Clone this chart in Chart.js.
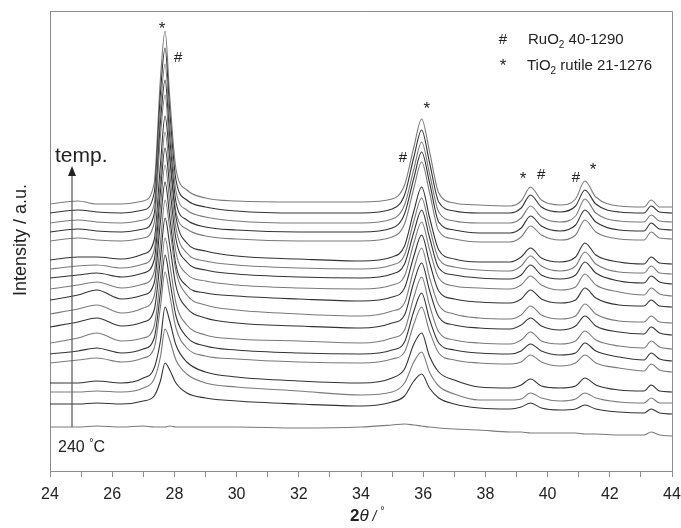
<!DOCTYPE html>
<html>
<head>
<meta charset="utf-8">
<script src="https://cdn.jsdelivr.net/npm/chart.js@4.4.1/dist/chart.umd.min.js"></script>
<style>
  html, body { margin: 0; padding: 0; background: #fff; }
  #wrap { width: 681px; height: 528px; }
</style>
</head>
<body>
<div id="wrap"><canvas id="xrd" width="681" height="528"></canvas></div>
<script>
const twoTheta = [24.0, 24.9, 25.5, 26.3, 27.0, 27.35, 27.55, 27.7, 27.85, 28.05, 28.4, 29.0, 30.0, 32.0, 34.0,
                  35.0, 35.4, 35.7, 35.95, 36.2, 36.5, 37.0, 37.8, 38.8, 39.15, 39.45, 39.8, 40.4, 40.9, 41.2,
                  41.55, 42.3, 43.1, 43.33, 43.6, 44.0];

// stacking offset of each scan, bottom one (240 °C) first
const offsets = [44, 67, 79, 88, 108, 117, 128, 144, 157, 171, 182, 193, 202, 211, 230, 239, 248, 258, 267];

// intensity of each scan above its offset (a.u.)
const scan01 = [0,0,1,0,1,0,0,0,1,0,0,0,0,-1,0,2,3,2,1,0,-1,-2,-3,-5,-5,-6,-6,-6,-6,-7,-7,-8,-8,-5,-8,-9];
const scan02 = [0,0,1,0,3,8,23,41,34,21,11,6,3,0,-2,2,8,23,30,16,6,0,-4,-5,-3,1,-4,-6,-5,-1,-5,-8,-9,-5,-9,-10];
const scan03 = [0,0,1,0,4,13,35,63,52,32,18,9,5,1,-3,0,9,30,40,20,6,-2,-8,-8,-7,-1,-6,-9,-7,-1,-6,-10,-11,-6,-11,-11];
const scan04 = [0,0,2,0,5,15,42,76,62,38,21,11,6,2,0,5,14,39,50,27,11,3,-4,-5,-2,4,-3,-5,-3,5,-2,-7,-8,-2,-8,-9];
const scan05 = [0,3,5,1,5,15,56,91,68,35,15,7,4,1,0,4,11,39,56,32,10,3,0,-1,1,8,1,-3,0,8,0,-5,-8,-1,-7,-9];
const scan06 = [0,3,6,1,5,16,61,99,74,38,17,8,4,1,0,4,12,43,61,35,11,4,1,0,3,10,3,-1,1,11,3,-3,-6,1,-5,-7];
const scan07 = [0,5,10,2,5,17,65,105,79,40,18,8,4,2,0,5,13,46,66,38,11,3,0,-1,3,11,2,-1,2,12,3,-3,-5,2,-4,-6];
const scan08 = [0,5,9,1,5,17,68,109,82,41,19,9,4,1,-1,4,12,45,64,37,10,2,-1,-2,2,9,1,-3,1,11,1,-5,-7,0,-6,-8];
const scan09 = [0,5,9,1,6,18,71,114,86,43,19,9,4,0,-2,3,11,45,66,37,9,0,-4,-5,-1,8,-1,-5,-2,10,0,-7,-8,-2,-8,-9];
const scan10 = [0,5,10,1,5,17,78,118,83,35,14,7,4,1,-1,3,12,44,65,38,9,1,-2,-3,1,10,1,-3,0,12,2,-5,-6,0,-6,-7];
const scan11 = [0,4,7,1,5,17,82,124,87,37,15,8,4,1,0,4,13,46,67,40,11,3,1,0,4,13,4,-1,2,15,4,-3,-6,1,-5,-7];
const scan12 = [0,3,5,1,5,18,86,130,91,39,16,8,4,1,0,4,14,46,68,41,10,3,0,-1,3,13,3,-1,3,16,5,-3,-5,2,-4,-6];
const scan13 = [0,3,4,1,5,19,90,137,96,41,16,8,4,1,0,4,14,48,71,42,10,2,-1,-2,3,13,3,-2,3,17,5,-3,-4,3,-4,-5];
const scan14 = [0,3,3,1,6,20,95,144,101,43,17,9,4,1,-1,3,14,49,73,43,10,1,-2,-2,3,12,2,-2,3,17,5,-2,-4,3,-3,-4];
const scan15 = [0,3,1,0,3,18,105,146,91,29,12,5,2,0,0,4,17,53,79,49,10,2,-1,-1,4,15,6,1,6,21,9,2,1,9,3,2];
const scan16 = [0,3,1,0,3,18,109,152,94,30,12,5,2,0,0,4,18,54,80,50,10,2,-1,-1,4,16,6,1,7,22,10,2,1,9,3,2];
const scan17 = [0,3,1,0,3,19,114,159,99,32,13,6,2,0,0,4,18,54,81,50,11,2,0,0,5,17,6,1,7,24,10,2,1,8,2,1];
const scan18 = [0,3,1,0,3,20,119,165,102,33,13,6,2,0,0,4,18,56,83,51,11,2,0,0,5,18,6,1,7,23,9,1,0,7,1,0];
const scan19 = [0,3,0,0,3,21,125,173,107,35,14,6,3,2,2,5,19,57,85,53,11,1,-1,-2,3,17,4,-1,5,23,7,-2,-3,4,-3,-3];

const scans = [scan01, scan02, scan03, scan04, scan05, scan06, scan07, scan08, scan09, scan10,
               scan11, scan12, scan13, scan14, scan15, scan16, scan17, scan18, scan19];

// x axis range
const xMin = 24, xMax = 44;

const FONT = '"Liberation Sans", Arial, sans-serif';

// Datasets aus den Scans bauen
const datasets = scans.map((scan, i) => ({
    label: 'scan ' + (i + 1),
    data: scan.map((v, k) => ({ x: twoTheta[k], y: offsets[i] + v })),
    borderColor: i % 2 === 0 ? '#7a7a7a' : '#333333',
    borderWidth: 1.1,
    pointRadius: 0,
    fill: false,
    cubicInterpolationMode: 'monotone'
}));

// draws text pieces one after another (for sub/superscripts)
function drawPieces(ctx, x, y, pieces) {
    pieces.forEach(p => {
        ctx.font = p.font;
        ctx.fillText(p.t, x, y + (p.dy || 0));
        x += ctx.measureText(p.t).width;
    });
}

const annotations = {
    id: 'annotations',
    afterDraw(chart) {
        const { ctx, chartArea: a, scales } = chart;
        const xs = scales.x;
        ctx.save();

        // Rahmen oben und rechts
        ctx.strokeStyle = '#8c8c8c';
        ctx.lineWidth = 1;
        ctx.beginPath();
        ctx.moveTo(a.left, a.top + 0.5);
        ctx.lineTo(a.right + 0.5, a.top + 0.5);
        ctx.lineTo(a.right + 0.5, a.bottom);
        ctx.stroke();

        ctx.fillStyle = '#222';
        ctx.textBaseline = 'alphabetic';

        // peak markers
        const marks = [
            ['*', 27.6, 34], ['#', 28.12, 62],
            ['#', 35.35, 162], ['*', 36.12, 114],
            ['*', 39.21, 184], ['#', 39.79, 179],
            ['#', 40.91, 182], ['*', 41.46, 175]
        ];
        ctx.textAlign = 'center';
        marks.forEach(([s, tt, py]) => {
            ctx.font = (s === '*' ? '17px ' : '15px ') + FONT;
            ctx.fillText(s, xs.getPixelForValue(tt), py);
        });

        // legend
        ctx.font = '15px ' + FONT;
        ctx.fillText('#', 503, 44);
        ctx.font = '17px ' + FONT;
        ctx.fillText('*', 503, 71);
        ctx.textAlign = 'left';
        drawPieces(ctx, 528, 44, [
            { t: 'RuO', font: '15px ' + FONT },
            { t: '2', font: '10px ' + FONT, dy: 4 },
            { t: ' 40-1290', font: '15px ' + FONT }
        ]);
        drawPieces(ctx, 527, 70, [
            { t: 'TiO', font: '15px ' + FONT },
            { t: '2', font: '10px ' + FONT, dy: 4 },
            { t: ' rutile 21-1276', font: '15px ' + FONT }
        ]);

        // temperature arrow
        ctx.strokeStyle = '#555';
        ctx.lineWidth = 1.2;
        ctx.beginPath();
        ctx.moveTo(72, 427);
        ctx.lineTo(72, 172);
        ctx.stroke();
        ctx.beginPath();
        ctx.moveTo(72, 166);
        ctx.lineTo(68, 176);
        ctx.lineTo(76, 176);
        ctx.closePath();
        ctx.fill();

        ctx.font = '21px ' + FONT;
        ctx.fillText('temp.', 55, 162);
        drawPieces(ctx, 58, 452, [
            { t: '240 ', font: '16px ' + FONT },
            { t: '°', font: '11px ' + FONT, dy: -6 },
            { t: 'C', font: '16px ' + FONT }
        ]);

        // axis titles
        drawPieces(ctx, 350, 521, [
            { t: '2', font: 'bold 17px ' + FONT },
            { t: 'θ', font: 'italic 17px ' + FONT },
            { t: ' / ', font: 'italic 14px ' + FONT },
            { t: '°', font: '11px ' + FONT, dy: -7 }
        ]);

        ctx.translate(26, 240);
        ctx.rotate(-Math.PI / 2);
        ctx.textAlign = 'center';
        ctx.font = '18px ' + FONT;
        ctx.fillText('Intensity / a.u.', 0, 0);

        ctx.restore();
    }
};

new Chart(document.getElementById('xrd'), {
    type: 'line',
    data: { datasets },
    options: {
        responsive: false,
        animation: false,
        layout: { padding: { top: 11, right: 0, left: 0, bottom: 0 } },
        plugins: { legend: { display: false }, tooltip: { enabled: false } },
        scales: {
            x: {
                type: 'linear',
                min: xMin,
                max: xMax,
                afterFit(scale) {
                    scale.height = 57;
                    scale.paddingLeft = 0;
                    scale.paddingRight = 9;
                },
                border: { display: true, color: '#8c8c8c', width: 1 },
                grid: { display: true, drawOnChartArea: false, drawTicks: true, tickLength: 6, color: '#8c8c8c' },
                ticks: {
                    stepSize: 1,
                    autoSkip: false,
                    maxRotation: 0,
                    padding: 8,
                    color: '#222',
                    font: { family: FONT, size: 16 },
                    callback: v => (v % 2 === 0 ? String(v) : '')
                }
            },
            y: {
                min: 0,
                max: 460,
                afterFit(scale) { scale.width = 50; },
                border: { display: true, color: '#8c8c8c', width: 1 },
                grid: { display: false },
                ticks: { display: false }
            }
        }
    },
    plugins: [annotations]
});
</script>
</body>
</html>
